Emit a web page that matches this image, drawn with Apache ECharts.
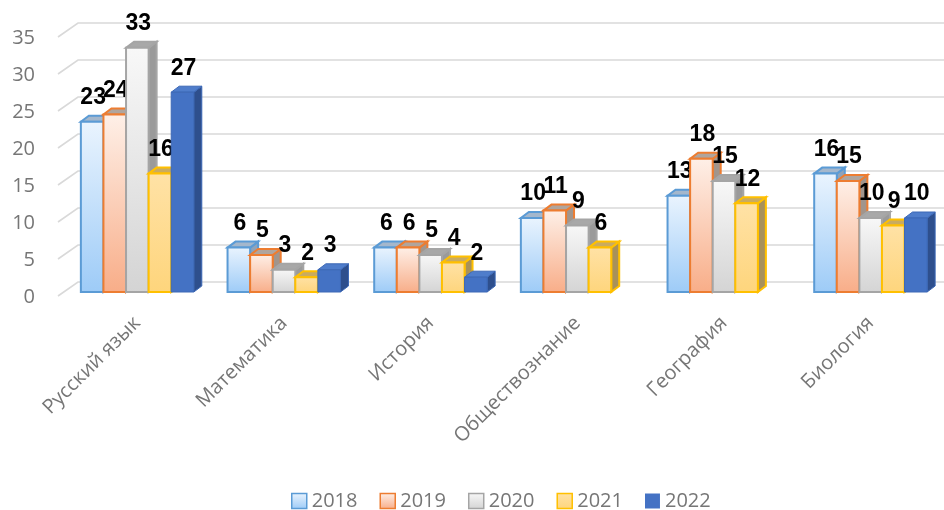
<!DOCTYPE html>
<html lang="ru">
<head>
	<meta charset="UTF-8">
	<title></title>
	<script src="https://cdn.jsdelivr.net/npm/echarts@6/dist/echarts.min.js" type="text/javascript"></script>
	<style>
		html, body { margin: 0; padding: 0; background: #fff; }
	</style>
</head>
<body>
	<div id="main" style="width: 944px;height:510px;"></div>
</body>
</html>

<script type="text/javascript">

var subjects = ['Русский язык', 'Математика', 'История', 'Обществознание', 'География', 'Биология'];
var years = ['2018', '2019', '2020', '2021', '2022'];

var v2018 = [23, 6, 6, 10, 13, 16];
var v2019 = [24, 5, 6, 11, 18, 15];
var v2020 = [33, 3, 5, 9, 15, 10];
var v2021 = [16, 2, 4, 6, 12, 9];
var v2022 = [27, 3, 2, null, null, 10];

var yTicks = [0, 5, 10, 15, 20, 25, 30, 35];

// faces: front gradient (top, bottom), border, top face, side face
var looks = [
	{ f1: '#eaf4fe', f2: '#9dcbf7', border: '#5b9bd5', top: '#a4b7cc', side: '#8fa3b9' },
	{ f1: '#fef0e8', f2: '#f8ad88', border: '#ed7d31', top: '#b0a59d', side: '#a1958c' },
	{ f1: '#f8f8f8', f2: '#d4d4d4', border: '#a5a5a5', top: '#a8a8a8', side: '#9a9a9a' },
	{ f1: '#ffe2a6', f2: '#fed57c', border: '#ffc000', top: '#c9ab60', side: '#a8915a' },
	{ f1: '#4472c4', f2: '#4472c4', border: '#3c68b6', top: '#4f7dcb', side: '#2e4f8d' }
];

var allValues = [v2018, v2019, v2020, v2021, v2022];

var DX = 8, DY = -6;
var GRAY = '#767676';

function frontFill(k) {
	var l = looks[k];
	return new echarts.graphic.LinearGradient(0, 0, 0, 1, [
		{ offset: 0, color: l.f1 },
		{ offset: 1, color: l.f2 }
	]);
}

function barRenderer(k) {
	return function (params, api) {
		var cat = api.value(0), val = api.value(1);
		var base = api.coord([cat, 0]);
		var top = api.coord([cat, val]);
		var band = api.size([1, 0])[0];
		var w = band * 0.154;
		var x0 = base[0] - 2.5 * w + k * w;
		var x1 = x0 + w;
		var yb = base[1], yt = top[1];
		var l = looks[k];
		var lw = k === 4 ? 1 : 2;
		return {
			type: 'group',
			children: [
				{
					type: 'polygon',
					shape: { points: [[x1, yt], [x1 + DX, yt + DY], [x1 + DX, yb + DY], [x1, yb]] },
					style: { fill: l.side, stroke: l.border, lineWidth: lw }
				},
				{
					type: 'polygon',
					shape: { points: [[x0, yt], [x1, yt], [x1 + DX, yt + DY], [x0 + DX, yt + DY]] },
					style: { fill: l.top, stroke: l.border, lineWidth: lw }
				},
				{
					type: 'rect',
					shape: { x: x0, y: yt, width: w, height: yb - yt },
					style: { fill: frontFill(k), stroke: l.border, lineWidth: lw }
				},
				{
					type: 'text',
					x: x0 + w / 2 + 1,
					y: yt - 24,
					style: {
						text: String(val),
						fill: '#000',
						font: 'bold 23px "Liberation Sans", Arial, sans-serif',
						align: 'center',
						verticalAlign: 'middle'
					},
					z2: 100
				}
			]
		};
	};
}

var series = [];

// back-wall gridlines with the slanted floor edge, plus the value labels
series.push({
	name: 'grid',
	type: 'custom',
	z: 1,
	silent: true,
	data: yTicks.map(function (v) { return [0, v]; }),
	encode: { x: 0, y: 1 },
	renderItem: function (params, api) {
		var cs = params.coordSys;
		var v = api.value(1);
		var y = api.coord([0, v])[1];
		return {
			type: 'group',
			children: [
				{
					type: 'polyline',
					shape: { points: [[cs.x - 6, y + 4], [cs.x + 14, y - 10], [cs.x + cs.width, y - 10]] },
					style: { stroke: '#d9d9d9', lineWidth: 1.6, fill: null }
				},
				{
					type: 'text',
					x: 35,
					y: y + 5,
					style: {
						text: String(v),
						fill: GRAY,
						font: '20px "Open Sans", sans-serif',
						align: 'right',
						verticalAlign: 'middle'
					}
				}
			]
		};
	}
});

years.forEach(function (yr, k) {
	var data = [];
	allValues[k].forEach(function (v, i) {
		if (v != null) data.push([i, v]);
	});
	series.push({
		name: yr,
		type: 'custom',
		z: 2 + k,
		itemStyle: { color: frontFill(k), borderColor: looks[k].border },
		encode: { x: 0, y: 1 },
		data: data,
		renderItem: barRenderer(k)
	});
});

var mychart = echarts.init(document.getElementById('main'));

var option = {
	animation: false,
	grid: {
		left: 64,
		right: 0,
		top: 33,
		bottom: 218,
		containLabel: false,
		outerBoundsMode: 'none'
	},
	xAxis: {
		type: 'category',
		data: subjects,
		axisLine: { show: false },
		axisTick: { show: false },
		axisLabel: {
			rotate: 45,
			margin: 28,
			interval: 0,
			color: GRAY,
			fontSize: 20,
			fontFamily: '"Open Sans", sans-serif'
		}
	},
	yAxis: {
		type: 'value',
		min: 0,
		max: 35,
		interval: 5,
		axisLine: { show: false },
		axisTick: { show: false },
		splitLine: { show: false },
		axisLabel: { show: false }
	},
	legend: {
		top: 486,
		left: 286,
		icon: 'rect',
		itemWidth: 15,
		itemHeight: 15,
		itemGap: 22,
		textStyle: {
			color: GRAY,
			fontSize: 20,
			fontFamily: '"Open Sans", sans-serif'
		},
		data: years.map(function (yr, k) {
			return {
				name: yr,
				itemStyle: { color: frontFill(k), borderColor: looks[k].border, borderWidth: k === 4 ? 0 : 1.5 }
			};
		})
	},
	series: series
};

mychart.setOption(option);
</script>
